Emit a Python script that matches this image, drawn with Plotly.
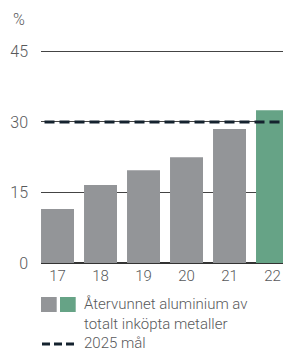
import plotly.graph_objects as go

years = ["17", "18", "19", "20", "21", "22"]
values = [11.5, 16.6, 19.7, 22.5, 28.5, 32.5]
bar_colors = ["#939598", "#939598", "#939598", "#939598", "#939598", "#66a386"]
target_value = 30
y_ticks = [0, 15, 30, 45]
legend_bar_text = "Återvunnet aluminium av<br>totalt inköpta metaller"
legend_line_text = "2025 mål"

FONT = "Roboto"
TXT = "#58595b"
WEIGHT = 300
W, H = 283, 351
ML, MR, MT, MB = 41, 0, 42, 88
PW, PH = W - ML - MR, H - MT - MB

def px(x):
    return (x - ML) / PW

def py(y):
    return (MT + PH - y) / PH

xs = list(range(len(years)))

fig = go.Figure()
fig.add_trace(go.Bar(
    x=xs, y=values, width=0.767,
    marker=dict(color=bar_colors, line=dict(width=0)),
    showlegend=False, hoverinfo="skip",
))
fig.add_trace(go.Scatter(
    x=[-1, len(years)], y=[target_value, target_value], mode="lines",
    line=dict(color="#14222e", width=3, dash="10px,5px"),
    showlegend=False, hoverinfo="skip",
))

shapes = [
    dict(type="rect", xref="paper", yref="paper", x0=px(41), x1=px(56.7), y0=py(297), y1=py(312),
         fillcolor="#939598", line=dict(width=0)),
    dict(type="rect", xref="paper", yref="paper", x0=px(60), x1=px(75.7), y0=py(297), y1=py(312),
         fillcolor="#66a386", line=dict(width=0)),
    dict(type="line", xref="paper", yref="paper", x0=px(42), x1=px(74), y0=py(344), y1=py(344),
         line=dict(color="#14222e", width=3, dash="8px,4px")),
]

annotations = [
    dict(text="%", xref="paper", yref="paper", x=px(19), y=py(20), xanchor="center", yanchor="middle",
         showarrow=False, font=dict(family=FONT, size=16, color=TXT, weight=WEIGHT)),
    dict(text=legend_bar_text, xref="paper", yref="paper", x=px(82), y=py(314), xanchor="left", yanchor="middle",
         align="left", showarrow=False, font=dict(family=FONT, size=15, color=TXT, weight=WEIGHT)),
    dict(text=legend_line_text, xref="paper", yref="paper", x=px(82), y=py(343), xanchor="left", yanchor="middle",
         align="left", showarrow=False, font=dict(family=FONT, size=15, color=TXT, weight=WEIGHT)),
]

fig.update_layout(
    width=W, height=H,
    margin=dict(l=ML, r=MR, t=MT, b=MB, pad=0, autoexpand=False),
    paper_bgcolor="white", plot_bgcolor="white",
    shapes=shapes, annotations=annotations,
    font=dict(family=FONT, color=TXT),
)
fig.update_xaxes(
    range=[-0.384, 5.244], tickvals=xs, ticktext=years, showgrid=False, zeroline=False,
    ticks="", tickfont=dict(family=FONT, size=15, color=TXT, weight=WEIGHT), ticklabelstandoff=2,
    fixedrange=True, automargin=False,
)
fig.update_yaxes(
    range=[0, 47], tickvals=y_ticks, showgrid=True, gridcolor="#444444", gridwidth=1,
    zeroline=True, zerolinecolor="#333333", zerolinewidth=2,
    ticks="", tickfont=dict(family=FONT, size=16, color=TXT, weight=WEIGHT), ticklabelstandoff=12,
    fixedrange=True, automargin=False,
)

fig.write_html(
    "out.html",
    config=dict(displayModeBar=False),
    post_script="document.body.style.margin='0';document.body.style.padding='0';document.body.style.overflow='hidden';",
)
